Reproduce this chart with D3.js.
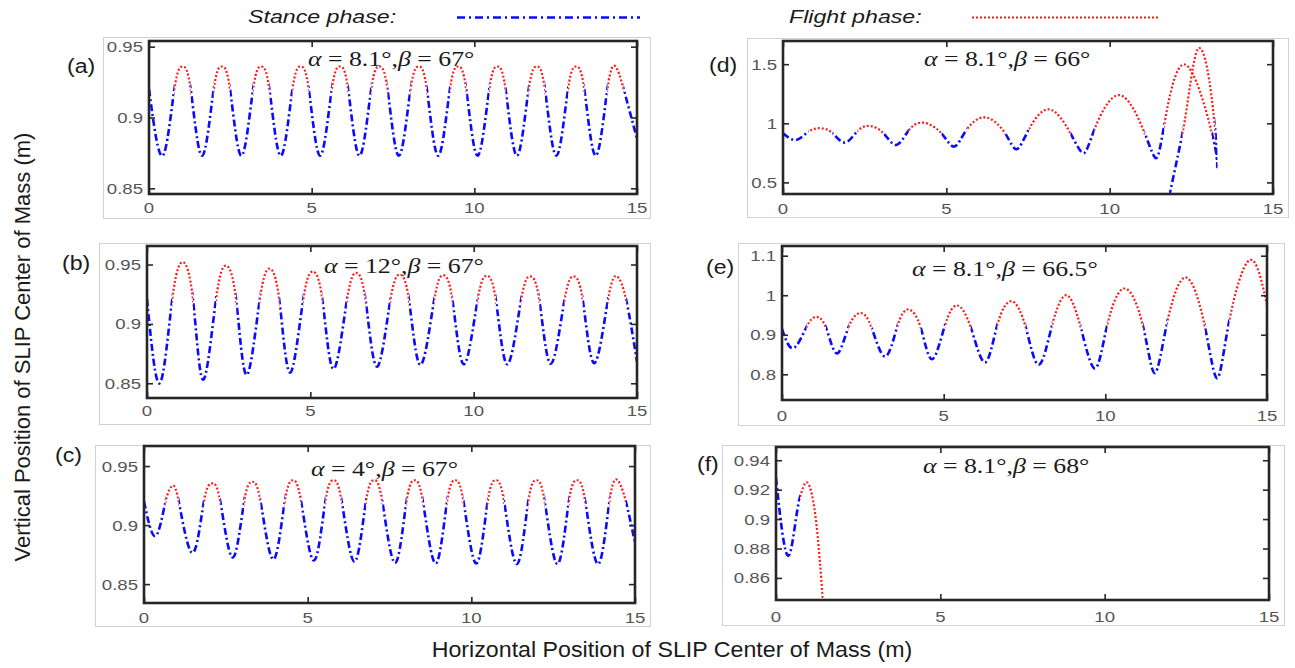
<!DOCTYPE html>
<html>
<head>
<meta charset="utf-8">
<script src="https://cdnjs.cloudflare.com/ajax/libs/d3/7.8.5/d3.min.js"></script>
<style>
  body { margin: 0; background: #fff; }
  svg { display: block; }
</style>
</head>
<body>
<script>
// ---- data ----
var xTicks = [0, 5, 10, 15];
var xTickLabels = ["0", "5", "10", "15"];

var yTicksABC = [0.85, 0.9, 0.95];
var yLabelsABC = ["0.85", "0.9", "0.95"];
var yTicksD = [0.5, 1, 1.5];
var yLabelsD = ["0.5", "1", "1.5"];
var yTicksE = [0.8, 0.9, 1, 1.1];
var yLabelsE = ["0.8", "0.9", "1", "1.1"];
var yTicksF = [0.86, 0.88, 0.9, 0.92, 0.94];
var yLabelsF = ["0.86", "0.88", "0.9", "0.92", "0.94"];

var panelTags = ["(a)", "(b)", "(c)", "(d)", "(e)", "(f)"];
var alphaVals = ["8.1", "12", "4", "8.1", "8.1", "8.1"];
var betaVals = ["67", "67", "67", "66", "66.5", "68"];

// knots along each trajectory; phase string = phase of each piece between knots
// s = stance, f = flight
var aX = [0, 0.42,0.78,1.03,1.28, 1.63,1.99,2.24,2.49, 2.84,3.20,3.45,3.70, 4.05,4.41,4.66,4.91,
  5.26,5.62,5.87,6.12, 6.47,6.83,7.08,7.33, 7.68,8.04,8.29,8.54, 8.89,9.25,9.50,9.75,
  10.10,10.46,10.71,10.96, 11.31,11.67,11.92,12.17, 12.52,12.88,13.13,13.38, 13.73,14.09,14.34,14.59, 15];
var aY = [0.920, 0.873,0.920,0.936,0.920, 0.873,0.920,0.936,0.920, 0.873,0.920,0.936,0.920, 0.873,0.920,0.936,0.920,
  0.873,0.920,0.936,0.920, 0.873,0.920,0.936,0.920, 0.873,0.920,0.936,0.920, 0.873,0.920,0.936,0.920,
  0.873,0.920,0.936,0.920, 0.873,0.920,0.936,0.920, 0.873,0.920,0.936,0.920, 0.873,0.920,0.936,0.920, 0.885];
var aPhase = "ssffssffssffssffssffssffssffssffssffssffssffssffs";

var bX = [0, 0.39,0.77,1.09,1.41, 1.72,2.11,2.42,2.73, 3.05,3.45,3.75,4.05, 4.38,4.78,5.08,5.37,
  5.71,6.12,6.41,6.69, 7.04,7.45,7.74,8.02, 8.37,8.79,9.07,9.35, 9.70,10.12,10.40,10.68,
  11.03,11.45,11.73,12.01, 12.36,12.78,13.06,13.34, 13.69,14.11,14.39,14.67, 15];
var bY = [0.921, 0.850,0.920,0.952,0.920, 0.853,0.920,0.949,0.920, 0.857,0.920,0.9465,0.920, 0.859,0.920,0.944,0.920,
  0.862,0.920,0.943,0.920, 0.864,0.920,0.9415,0.920, 0.8655,0.920,0.941,0.920, 0.866,0.920,0.9405,0.920,
  0.866,0.920,0.940,0.920, 0.8665,0.920,0.940,0.920, 0.867,0.920,0.940,0.920, 0.868];
var bPhase = "ssffssffssffssffssffssffssffssffssffssffssffs";

var cX = [0, 0.35,0.66,0.86,1.06, 1.48,1.83,2.08,2.33, 2.71,3.06,3.31,3.56, 3.95,4.30,4.55,4.80,
  5.19,5.54,5.79,6.04, 6.43,6.78,7.03,7.28, 7.67,8.02,8.27,8.52, 8.91,9.26,9.51,9.76,
  10.15,10.50,10.75,11.00, 11.39,11.74,11.99,12.24, 12.63,12.98,13.23,13.48, 13.87,14.22,14.47,14.72, 15];
var cY = [0.920, 0.8907,0.920,0.933,0.920, 0.8765,0.920,0.9353,0.920, 0.8726,0.920,0.9367,0.920, 0.871,0.920,0.938,0.920,
  0.870,0.920,0.938,0.920, 0.869,0.920,0.938,0.920, 0.868,0.920,0.938,0.920, 0.8675,0.920,0.938,0.920,
  0.8675,0.920,0.938,0.920, 0.867,0.920,0.938,0.920, 0.867,0.920,0.938,0.920, 0.867,0.920,0.938,0.920, 0.885];
var cPhase = "ssffssffssffssffssffssffssffssffssffssffssffssffs";

var dX = [0, 0.40,0.78,1.16,1.52, 1.90,2.28,2.66,3.08, 3.47,3.85,4.30,4.85, 5.24,5.62,6.20,6.80,
  7.15,7.53,8.15,8.80, 9.20,9.54,10.30,11.07, 11.42,11.67,12.30,13.13, 13.29];
var dY = [0.915, 0.859,0.930,0.958,0.915, 0.837,0.935,0.977,0.915, 0.817,0.940,1.005,0.915, 0.803,0.945,1.050,0.915,
  0.781,0.950,1.118,0.915, 0.747,0.952,1.238,0.916, 0.705,0.986,1.497,0.916, 0.630];
var dPhase = "ssffssffssffssffssffssffssffs";
var dX2 = [11.82, 12.23, 12.74, 13.23, 13.30];
var dY2 = [0.380, 0.916, 1.637, 0.944, 0.620];
var dPhase2 = "sffs";

var eX = [0, 0.35,0.76,1.05,1.36, 1.70,2.06,2.43,2.77, 3.19,3.57,3.91,4.29, 4.64,5.04,5.42,5.84,
  6.28,6.66,7.10,7.54, 7.94,8.36,8.80,9.24, 9.68,10.06,10.60,11.17, 11.53,11.91,12.49,13.08,
  13.46,13.83,14.47,15];
var eY = [0.915, 0.866,0.920,0.945,0.918, 0.853,0.920,0.955,0.918, 0.845,0.922,0.964,0.918, 0.838,0.924,0.974,0.918,
  0.830,0.925,0.985,0.918, 0.824,0.926,1.000,0.918, 0.815,0.925,1.017,0.920, 0.803,0.930,1.045,0.920,
  0.790,0.934,1.089,0.975];
var ePhase = "ssffssffssffssffssffssffssffssffssff";

var fX = [0, 0.375, 0.73, 0.93, 1.20, 1.45];
var fY = [0.928, 0.875, 0.915, 0.925, 0.902, 0.838];
var fPhase = "ssfff";

// ---- layout ----
var BLUE = "#0a0aff", RED = "#ff1a1a";
var SANS = "'Liberation Sans', Arial, sans-serif";
var SERIF = "'Liberation Serif', 'Times New Roman', serif";
var STRETCH = 1.2;   // the figure was pasted stretched sideways
var smooth = d3.curveNatural, monotone = d3.curveMonotoneX;

var panels = [
  { frame: [103, 37, 650, 218], box: [149, 41, 637, 194], yDom: [0.846, 0.954], yTicks: yTicksABC, yLabels: yLabelsABC,
    tag: [67, 73], note: [308, 66], xPad: 8, traces: [[aX, aY, aPhase, smooth]] },
  { frame: [99, 243, 650, 424], box: [147, 246, 637, 398], yDom: [0.8376, 0.9656], yTicks: yTicksABC, yLabels: yLabelsABC,
    tag: [62, 270], note: [324, 273], xPad: 7, traces: [[bX, bY, bPhase, smooth]] },
  { frame: [95, 445, 650, 626], box: [144, 446, 635, 603], yDom: [0.834, 0.967], yTicks: yTicksABC, yLabels: yLabelsABC,
    tag: [55, 462], note: [311, 476], xPad: 9, traces: [[cX, cY, cPhase, smooth]] },
  { frame: [747, 38, 1288, 217], box: [783, 41, 1273, 194], yDom: [0.402, 1.696], yTicks: yTicksD, yLabels: yLabelsD,
    tag: [709, 72], note: [924, 66], xPad: 9, traces: [[dX, dY, dPhase, smooth], [dX2, dY2, dPhase2, monotone]] },
  { frame: [738, 243, 1284, 425], box: [782, 246, 1267, 400], yDom: [0.735, 1.1245], yTicks: yTicksE, yLabels: yLabelsE,
    tag: [706, 274], note: [912, 276], xPad: 10, traces: [[eX, eY, ePhase, smooth]] },
  { frame: [722, 445, 1284, 625], box: [776, 447, 1269, 600], yDom: [0.845, 0.949], yTicks: yTicksF, yLabels: yLabelsF,
    tag: [697, 471], note: [923, 473], xPad: 11, traces: [[fX, fY, fPhase, monotone]] }
];

var svg = d3.select("body").append("svg")
    .attr("width", 1295)
    .attr("height", 668)
var defs = svg.append("defs")

function styleLine(sel, phase) {
  if (phase === "s") {
    sel.attr("stroke", BLUE).attr("stroke-width", 2.6).attr("stroke-dasharray", "7,3,2,3")
  } else {
    sel.attr("stroke", RED).attr("stroke-width", 2.2).attr("stroke-dasharray", "2,2")
  }
  return sel.attr("fill", "none")
}

function drawTrace(g, xs, ys, phase, curve, x, y, p, uid) {
  var pts = xs.map(function (d, i) { return [d, ys[i]] })
  var line = d3.line()
      .x(function (d) { return x(d[0]) })
      .y(function (d) { return y(d[1]) })
      .curve(curve)
  var path = line(pts)

  // group consecutive pieces with the same phase
  var runs = [], start = 0
  for (var i = 1; i <= phase.length; i++) {
    if (i === phase.length || phase[i] !== phase[start]) {
      runs.push({ a: start, b: i, ph: phase[start] })
      start = i
    }
  }
  runs.forEach(function (r, k) {
    var id = "clip" + uid + "_" + k
    var x0 = x(xs[r.a]), x1 = x(xs[r.b])
    defs.append("clipPath").attr("id", id)
      .append("rect")
        .attr("x", x0).attr("y", p.box[1])
        .attr("width", Math.max(0, x1 - x0)).attr("height", p.box[3] - p.box[1])
    styleLine(g.append("path").attr("d", path).attr("clip-path", "url(#" + id + ")"), r.ph)
  })
}

function stretchedText(g, px, py, str, size, anchor, sx) {
  return g.append("text")
      .attr("transform", "translate(" + px + "," + py + ") scale(" + sx + ",1)")
      .attr("text-anchor", anchor)
      .style("font-family", SANS)
      .style("font-size", size + "px")
      .text(str)
}

panels.forEach(function (p, idx) {
  var g = svg.append("g")
  var L = p.box[0], T = p.box[1], R = p.box[2], B = p.box[3]

  // light frame of the pasted figure
  g.append("rect")
      .attr("x", p.frame[0] + 0.5).attr("y", p.frame[1] + 0.5)
      .attr("width", p.frame[2] - p.frame[0]).attr("height", p.frame[3] - p.frame[1])
      .attr("fill", "none").attr("stroke", "#d0d0d0").attr("stroke-width", 1)

  var x = d3.scaleLinear().domain([0, 15]).range([L, R])
  var y = d3.scaleLinear().domain(p.yDom).range([B, T])

  p.traces.forEach(function (t, k) {
    drawTrace(g, t[0], t[1], t[2], t[3], x, y, p, idx + "_" + k)
  })

  // inward ticks on all four sides
  var tickCol = "#262626"
  var axes = [
    [d3.axisBottom(x).tickValues(xTicks), 0, B],
    [d3.axisTop(x).tickValues(xTicks), 0, T],
    [d3.axisLeft(y).tickValues(p.yTicks), L, 0],
    [d3.axisRight(y).tickValues(p.yTicks), R, 0]
  ]
  axes.forEach(function (a) {
    var ag = g.append("g")
        .attr("transform", "translate(" + a[1] + "," + a[2] + ")")
        .call(a[0].tickSizeInner(-6).tickSizeOuter(0).tickFormat(""))
    ag.select(".domain").remove()
    ag.selectAll("line").attr("stroke", tickCol).attr("stroke-width", 1.6)
  })

  // tick labels
  var lab = g.append("g").style("fill", "#555")
  xTicks.forEach(function (v, i) {
    stretchedText(lab, x(v), B + p.xPad + 11, xTickLabels[i], 15.5, "middle", STRETCH)
  })
  p.yTicks.forEach(function (v, i) {
    stretchedText(lab, L - 6, y(v) + 5.5, p.yLabels[i], 15.5, "end", STRETCH)
  })

  // axes box
  g.append("rect")
      .attr("x", L).attr("y", T)
      .attr("width", R - L).attr("height", B - T)
      .attr("fill", "none").attr("stroke", "#262626").attr("stroke-width", 2.6)

  // panel tag
  stretchedText(g, p.tag[0], p.tag[1], panelTags[idx], 21, "start", 1.1).style("fill", "#1a1a1a")

  // parameter note
  var note = g.append("text")
      .attr("transform", "translate(" + p.note[0] + "," + p.note[1] + ") scale(" + STRETCH + ",1)")
      .style("font-family", SERIF)
      .style("font-size", "21.5px")
      .style("fill", "#1a1a1a")
  note.append("tspan").style("font-style", "italic").text("\u03b1")
  note.append("tspan").text(" = " + alphaVals[idx] + "\u00b0,")
  note.append("tspan").style("font-style", "italic").text("\u03b2")
  note.append("tspan").text(" = " + betaVals[idx] + "\u00b0")
})

// legend
var leg = svg.append("g").style("fill", "#1a1a1a")
stretchedText(leg, 248, 23, "Stance phase:", 19, "start", 1.22).style("font-style", "italic")
stretchedText(leg, 789, 23, "Flight phase:", 19, "start", 1.22).style("font-style", "italic")
styleLine(leg.append("line").attr("x1", 457).attr("x2", 640).attr("y1", 17.5).attr("y2", 17.5), "s")
  .attr("stroke-dasharray", "8,4,2,4")
styleLine(leg.append("line").attr("x1", 972).attr("x2", 1158).attr("y1", 17.5).attr("y2", 17.5), "f")

// shared axis titles
svg.append("text")
    .attr("transform", "translate(672,657) scale(1.055,1)")
    .attr("text-anchor", "middle")
    .style("font-family", SANS)
    .style("font-size", "22px")
    .style("fill", "#1a1a1a")
    .text("Horizontal Position of SLIP Center of Mass (m)")
svg.append("text")
    .attr("transform", "translate(30,347) rotate(-90)")
    .attr("text-anchor", "middle")
    .style("font-family", SANS)
    .style("font-size", "22px")
    .style("fill", "#1a1a1a")
    .text("Vertical Position of SLIP Center of Mass (m)")
</script>
</body>
</html>
